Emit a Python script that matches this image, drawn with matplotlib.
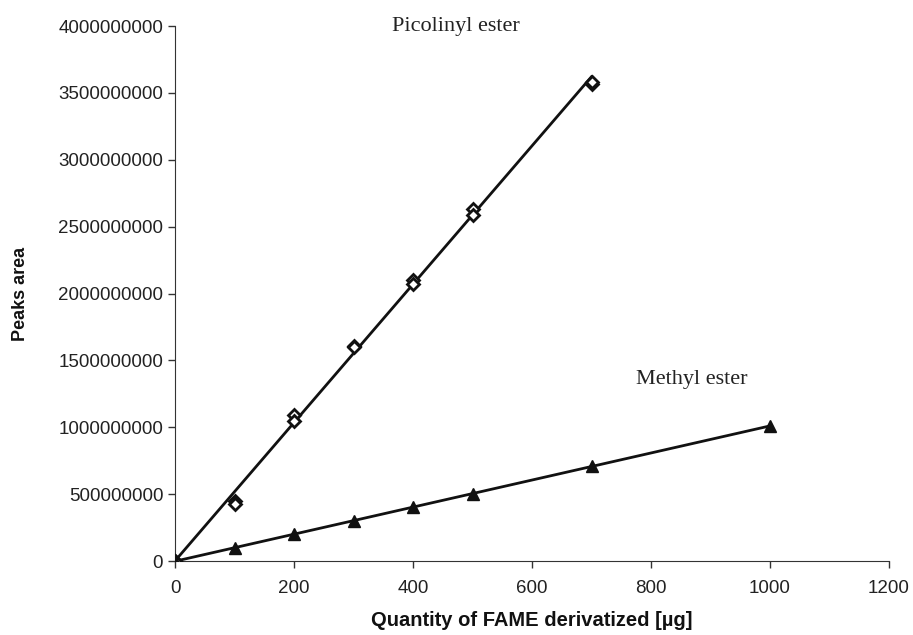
import numpy as np
import matplotlib.pyplot as plt

# Picolinyl ester replicates (ug, peak area)
pic_x = [0, 0, 100, 100, 200, 200, 300, 300, 400, 400, 500, 500, 700, 700]
pic_y = [0, 0, 4.5e8, 4.3e8, 1.09e9, 1.05e9, 1.61e9, 1.60e9,
         2.10e9, 2.07e9, 2.63e9, 2.59e9, 3.57e9, 3.58e9]

# Methyl ester
met_x = [0, 100, 200, 300, 400, 500, 700, 1000]
met_y = [0, 1.0e8, 2.0e8, 3.0e8, 4.05e8, 5.0e8, 7.1e8, 1.01e9]

x_ticks = [0, 200, 400, 600, 800, 1000, 1200]
y_ticks = [0, 5e8, 1e9, 1.5e9, 2e9, 2.5e9, 3e9, 3.5e9, 4e9]

plt.rcParams['font.family'] = ['Liberation Sans', 'DejaVu Sans']

fig = plt.figure(figsize=(9.13, 6.35), dpi=100)
ax = fig.add_axes([0.1917, 0.1165, 0.782, 0.8425])

# fitted lines through the data
def fit_line(xs, ys):
    xs = np.array(xs, dtype=float)
    ys = np.array(ys, dtype=float)
    k, b = np.polyfit(xs, ys, 1)
    xx = np.array([xs.min(), xs.max()])
    return xx, k * xx + b

lx, ly = fit_line(pic_x, pic_y)
ax.plot(lx, ly, color='#111111', lw=2, zorder=2)
lx, ly = fit_line(met_x, met_y)
ax.plot(lx, ly, color='#111111', lw=2, zorder=2)

ax.plot(pic_x, pic_y, linestyle='', marker='D', markersize=6,
        markerfacecolor='white', markeredgecolor='#111111', markeredgewidth=2, zorder=3)
ax.plot(met_x, met_y, linestyle='', marker='^', markersize=9,
        color='#111111', zorder=3)

ax.text(472, 4.0e9, 'Picolinyl ester', family='Liberation Serif', fontsize=16,
        ha='center', va='center', color='#222222')
ax.text(869, 1.36e9, 'Methyl ester', family='Liberation Serif', fontsize=16,
        ha='center', va='center', color='#222222')

ax.set_xlim(0, 1200)
ax.set_ylim(0, 4e9)
ax.set_xticks(x_ticks)
ax.set_yticks(y_ticks)
ax.set_xticklabels([str(t) for t in x_ticks])
ax.set_yticklabels([str(int(t)) for t in y_ticks])
ax.tick_params(direction='out', length=5, width=1, labelsize=13.5,
               color='#333333', labelcolor='#222222')
ax.tick_params(axis='x', pad=9)

for s in ['top', 'right']:
    ax.spines[s].set_visible(False)
for s in ['left', 'bottom']:
    ax.spines[s].set_color('#333333')

ax.set_xlabel('Quantity of FAME derivatized [µg]', fontsize=14.5, fontweight='bold',
              labelpad=10, color='#111111')
ax.set_ylabel('Peaks area', fontsize=13, fontweight='bold', labelpad=21, color='#111111')

fig.savefig('out.png', dpi=100)
